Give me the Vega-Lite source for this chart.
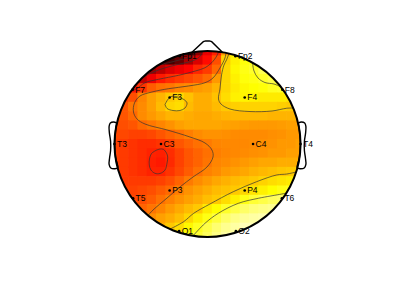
{
"$schema":"https://vega.github.io/schema/vega-lite/v6.json",
"width":400,"height":299,"autosize":{"type":"none"},"padding":0,
"background":"white",
"config":{"view":{"stroke":null}},
"datasets":{
"grid":[
{"x":-0.3,"y":1,"v":0.03},{"x":-0.2,"y":1,"v":0.07},{"x":-0.1,"y":1,"v":0.2},{"x":0,"y":1,"v":0.34},{"x":0.1,"y":1,"v":0.42},{"x":0.2,"y":1,"v":0.6},{"x":0.3,"y":1,"v":0.72},
{"x":-0.5,"y":0.9,"v":0.1},{"x":-0.4,"y":0.9,"v":0.09},{"x":-0.3,"y":0.9,"v":0.14},{"x":-0.2,"y":0.9,"v":0.24},{"x":-0.1,"y":0.9,"v":0.32},{"x":0,"y":0.9,"v":0.39},{"x":0.1,"y":0.9,"v":0.49},{"x":0.2,"y":0.9,"v":0.68},{"x":0.3,"y":0.9,"v":0.73},{"x":0.4,"y":0.9,"v":0.76},{"x":0.5,"y":0.9,"v":0.78},
{"x":-0.7,"y":0.8,"v":0.2},{"x":-0.6,"y":0.8,"v":0.22},{"x":-0.5,"y":0.8,"v":0.27},{"x":-0.4,"y":0.8,"v":0.32},{"x":-0.3,"y":0.8,"v":0.35},{"x":-0.2,"y":0.8,"v":0.38},{"x":-0.1,"y":0.8,"v":0.43},{"x":0,"y":0.8,"v":0.46},{"x":0.1,"y":0.8,"v":0.53},{"x":0.2,"y":0.8,"v":0.69},{"x":0.3,"y":0.8,"v":0.74},{"x":0.4,"y":0.8,"v":0.77},{"x":0.5,"y":0.8,"v":0.79},{"x":0.6,"y":0.8,"v":0.83},{"x":0.7,"y":0.8,"v":0.84},
{"x":-0.8,"y":0.7,"v":0.28},{"x":-0.7,"y":0.7,"v":0.28},{"x":-0.6,"y":0.7,"v":0.35},{"x":-0.5,"y":0.7,"v":0.41},{"x":-0.4,"y":0.7,"v":0.44},{"x":-0.3,"y":0.7,"v":0.46},{"x":-0.2,"y":0.7,"v":0.48},{"x":-0.1,"y":0.7,"v":0.5},{"x":0,"y":0.7,"v":0.53},{"x":0.1,"y":0.7,"v":0.6},{"x":0.2,"y":0.7,"v":0.69},{"x":0.3,"y":0.7,"v":0.73},{"x":0.4,"y":0.7,"v":0.76},{"x":0.5,"y":0.7,"v":0.77},{"x":0.6,"y":0.7,"v":0.79},{"x":0.7,"y":0.7,"v":0.82},{"x":0.8,"y":0.7,"v":0.82},
{"x":-0.8,"y":0.6,"v":0.4},{"x":-0.7,"y":0.6,"v":0.45},{"x":-0.6,"y":0.6,"v":0.51},{"x":-0.5,"y":0.6,"v":0.54},{"x":-0.4,"y":0.6,"v":0.55},{"x":-0.3,"y":0.6,"v":0.57},{"x":-0.2,"y":0.6,"v":0.58},{"x":-0.1,"y":0.6,"v":0.6},{"x":0,"y":0.6,"v":0.61},{"x":0.1,"y":0.6,"v":0.64},{"x":0.2,"y":0.6,"v":0.69},{"x":0.3,"y":0.6,"v":0.72},{"x":0.4,"y":0.6,"v":0.74},{"x":0.5,"y":0.6,"v":0.75},{"x":0.6,"y":0.6,"v":0.76},{"x":0.7,"y":0.6,"v":0.78},{"x":0.8,"y":0.6,"v":0.79},
{"x":-0.9,"y":0.5,"v":0.46},{"x":-0.8,"y":0.5,"v":0.49},{"x":-0.7,"y":0.5,"v":0.57},{"x":-0.6,"y":0.5,"v":0.61},{"x":-0.5,"y":0.5,"v":0.64},{"x":-0.4,"y":0.5,"v":0.67},{"x":-0.3,"y":0.5,"v":0.69},{"x":-0.2,"y":0.5,"v":0.66},{"x":-0.1,"y":0.5,"v":0.63},{"x":0,"y":0.5,"v":0.63},{"x":0.1,"y":0.5,"v":0.66},{"x":0.2,"y":0.5,"v":0.7},{"x":0.3,"y":0.5,"v":0.73},{"x":0.4,"y":0.5,"v":0.735},{"x":0.5,"y":0.5,"v":0.73},{"x":0.6,"y":0.5,"v":0.72},{"x":0.7,"y":0.5,"v":0.72},{"x":0.8,"y":0.5,"v":0.72},{"x":0.9,"y":0.5,"v":0.71},
{"x":-0.9,"y":0.4,"v":0.5},{"x":-0.8,"y":0.4,"v":0.55},{"x":-0.7,"y":0.4,"v":0.58},{"x":-0.6,"y":0.4,"v":0.61},{"x":-0.5,"y":0.4,"v":0.65},{"x":-0.4,"y":0.4,"v":0.69},{"x":-0.3,"y":0.4,"v":0.7},{"x":-0.2,"y":0.4,"v":0.65},{"x":-0.1,"y":0.4,"v":0.63},{"x":0,"y":0.4,"v":0.63},{"x":0.1,"y":0.4,"v":0.65},{"x":0.2,"y":0.4,"v":0.67},{"x":0.3,"y":0.4,"v":0.68},{"x":0.4,"y":0.4,"v":0.685},{"x":0.5,"y":0.4,"v":0.685},{"x":0.6,"y":0.4,"v":0.685},{"x":0.7,"y":0.4,"v":0.685},{"x":0.8,"y":0.4,"v":0.68},{"x":0.9,"y":0.4,"v":0.67},
{"x":-1,"y":0.3,"v":0.49},{"x":-0.9,"y":0.3,"v":0.5},{"x":-0.8,"y":0.3,"v":0.53},{"x":-0.7,"y":0.3,"v":0.58},{"x":-0.6,"y":0.3,"v":0.6},{"x":-0.5,"y":0.3,"v":0.62},{"x":-0.4,"y":0.3,"v":0.64},{"x":-0.3,"y":0.3,"v":0.64},{"x":-0.2,"y":0.3,"v":0.63},{"x":-0.1,"y":0.3,"v":0.62},{"x":0,"y":0.3,"v":0.62},{"x":0.1,"y":0.3,"v":0.63},{"x":0.2,"y":0.3,"v":0.64},{"x":0.3,"y":0.3,"v":0.645},{"x":0.4,"y":0.3,"v":0.645},{"x":0.5,"y":0.3,"v":0.645},{"x":0.6,"y":0.3,"v":0.645},{"x":0.7,"y":0.3,"v":0.64},{"x":0.8,"y":0.3,"v":0.64},{"x":0.9,"y":0.3,"v":0.64},{"x":1,"y":0.3,"v":0.64},
{"x":-1,"y":0.2,"v":0.49},{"x":-0.9,"y":0.2,"v":0.49},{"x":-0.8,"y":0.2,"v":0.5},{"x":-0.7,"y":0.2,"v":0.53},{"x":-0.6,"y":0.2,"v":0.55},{"x":-0.5,"y":0.2,"v":0.57},{"x":-0.4,"y":0.2,"v":0.59},{"x":-0.3,"y":0.2,"v":0.61},{"x":-0.2,"y":0.2,"v":0.62},{"x":-0.1,"y":0.2,"v":0.62},{"x":0,"y":0.2,"v":0.62},{"x":0.1,"y":0.2,"v":0.62},{"x":0.2,"y":0.2,"v":0.615},{"x":0.3,"y":0.2,"v":0.61},{"x":0.4,"y":0.2,"v":0.605},{"x":0.5,"y":0.2,"v":0.6},{"x":0.6,"y":0.2,"v":0.6},{"x":0.7,"y":0.2,"v":0.6},{"x":0.8,"y":0.2,"v":0.605},{"x":0.9,"y":0.2,"v":0.61},{"x":1,"y":0.2,"v":0.61},
{"x":-1,"y":0.1,"v":0.48},{"x":-0.9,"y":0.1,"v":0.48},{"x":-0.8,"y":0.1,"v":0.47},{"x":-0.7,"y":0.1,"v":0.47},{"x":-0.6,"y":0.1,"v":0.48},{"x":-0.5,"y":0.1,"v":0.5},{"x":-0.4,"y":0.1,"v":0.52},{"x":-0.3,"y":0.1,"v":0.54},{"x":-0.2,"y":0.1,"v":0.56},{"x":-0.1,"y":0.1,"v":0.58},{"x":0,"y":0.1,"v":0.59},{"x":0.1,"y":0.1,"v":0.59},{"x":0.2,"y":0.1,"v":0.585},{"x":0.3,"y":0.1,"v":0.58},{"x":0.4,"y":0.1,"v":0.58},{"x":0.5,"y":0.1,"v":0.58},{"x":0.6,"y":0.1,"v":0.58},{"x":0.7,"y":0.1,"v":0.585},{"x":0.8,"y":0.1,"v":0.59},{"x":0.9,"y":0.1,"v":0.6},{"x":1,"y":0.1,"v":0.6},
{"x":-1,"y":0,"v":0.47},{"x":-0.9,"y":0,"v":0.46},{"x":-0.8,"y":0,"v":0.45},{"x":-0.7,"y":0,"v":0.44},{"x":-0.6,"y":0,"v":0.44},{"x":-0.5,"y":0,"v":0.45},{"x":-0.4,"y":0,"v":0.47},{"x":-0.3,"y":0,"v":0.5},{"x":-0.2,"y":0,"v":0.52},{"x":-0.1,"y":0,"v":0.54},{"x":0,"y":0,"v":0.555},{"x":0.1,"y":0,"v":0.57},{"x":0.2,"y":0,"v":0.575},{"x":0.3,"y":0,"v":0.575},{"x":0.4,"y":0,"v":0.575},{"x":0.5,"y":0,"v":0.58},{"x":0.6,"y":0,"v":0.585},{"x":0.7,"y":0,"v":0.59},{"x":0.8,"y":0,"v":0.6},{"x":0.9,"y":0,"v":0.6},{"x":1,"y":0,"v":0.61},
{"x":-1,"y":-0.1,"v":0.47},{"x":-0.9,"y":-0.1,"v":0.46},{"x":-0.8,"y":-0.1,"v":0.45},{"x":-0.7,"y":-0.1,"v":0.44},{"x":-0.6,"y":-0.1,"v":0.425},{"x":-0.5,"y":-0.1,"v":0.42},{"x":-0.4,"y":-0.1,"v":0.44},{"x":-0.3,"y":-0.1,"v":0.47},{"x":-0.2,"y":-0.1,"v":0.5},{"x":-0.1,"y":-0.1,"v":0.52},{"x":0,"y":-0.1,"v":0.54},{"x":0.1,"y":-0.1,"v":0.56},{"x":0.2,"y":-0.1,"v":0.57},{"x":0.3,"y":-0.1,"v":0.575},{"x":0.4,"y":-0.1,"v":0.58},{"x":0.5,"y":-0.1,"v":0.585},{"x":0.6,"y":-0.1,"v":0.59},{"x":0.7,"y":-0.1,"v":0.6},{"x":0.8,"y":-0.1,"v":0.6},{"x":0.9,"y":-0.1,"v":0.61},{"x":1,"y":-0.1,"v":0.61},
{"x":-1,"y":-0.2,"v":0.47},{"x":-0.9,"y":-0.2,"v":0.46},{"x":-0.8,"y":-0.2,"v":0.45},{"x":-0.7,"y":-0.2,"v":0.44},{"x":-0.6,"y":-0.2,"v":0.42},{"x":-0.5,"y":-0.2,"v":0.41},{"x":-0.4,"y":-0.2,"v":0.435},{"x":-0.3,"y":-0.2,"v":0.47},{"x":-0.2,"y":-0.2,"v":0.5},{"x":-0.1,"y":-0.2,"v":0.52},{"x":0,"y":-0.2,"v":0.545},{"x":0.1,"y":-0.2,"v":0.57},{"x":0.2,"y":-0.2,"v":0.58},{"x":0.3,"y":-0.2,"v":0.59},{"x":0.4,"y":-0.2,"v":0.6},{"x":0.5,"y":-0.2,"v":0.61},{"x":0.6,"y":-0.2,"v":0.62},{"x":0.7,"y":-0.2,"v":0.62},{"x":0.8,"y":-0.2,"v":0.63},{"x":0.9,"y":-0.2,"v":0.63},{"x":1,"y":-0.2,"v":0.63},
{"x":-1,"y":-0.3,"v":0.47},{"x":-0.9,"y":-0.3,"v":0.46},{"x":-0.8,"y":-0.3,"v":0.45},{"x":-0.7,"y":-0.3,"v":0.44},{"x":-0.6,"y":-0.3,"v":0.425},{"x":-0.5,"y":-0.3,"v":0.425},{"x":-0.4,"y":-0.3,"v":0.45},{"x":-0.3,"y":-0.3,"v":0.48},{"x":-0.2,"y":-0.3,"v":0.51},{"x":-0.1,"y":-0.3,"v":0.54},{"x":0,"y":-0.3,"v":0.565},{"x":0.1,"y":-0.3,"v":0.58},{"x":0.2,"y":-0.3,"v":0.6},{"x":0.3,"y":-0.3,"v":0.61},{"x":0.4,"y":-0.3,"v":0.62},{"x":0.5,"y":-0.3,"v":0.635},{"x":0.6,"y":-0.3,"v":0.645},{"x":0.7,"y":-0.3,"v":0.655},{"x":0.8,"y":-0.3,"v":0.665},{"x":0.9,"y":-0.3,"v":0.67},{"x":1,"y":-0.3,"v":0.68},
{"x":-0.9,"y":-0.4,"v":0.46},{"x":-0.8,"y":-0.4,"v":0.46},{"x":-0.7,"y":-0.4,"v":0.46},{"x":-0.6,"y":-0.4,"v":0.46},{"x":-0.5,"y":-0.4,"v":0.47},{"x":-0.4,"y":-0.4,"v":0.49},{"x":-0.3,"y":-0.4,"v":0.52},{"x":-0.2,"y":-0.4,"v":0.555},{"x":-0.1,"y":-0.4,"v":0.58},{"x":0,"y":-0.4,"v":0.6},{"x":0.1,"y":-0.4,"v":0.62},{"x":0.2,"y":-0.4,"v":0.635},{"x":0.3,"y":-0.4,"v":0.65},{"x":0.4,"y":-0.4,"v":0.66},{"x":0.5,"y":-0.4,"v":0.67},{"x":0.6,"y":-0.4,"v":0.685},{"x":0.7,"y":-0.4,"v":0.7},{"x":0.8,"y":-0.4,"v":0.71},{"x":0.9,"y":-0.4,"v":0.72},
{"x":-0.9,"y":-0.5,"v":0.47},{"x":-0.8,"y":-0.5,"v":0.47},{"x":-0.7,"y":-0.5,"v":0.48},{"x":-0.6,"y":-0.5,"v":0.49},{"x":-0.5,"y":-0.5,"v":0.51},{"x":-0.4,"y":-0.5,"v":0.53},{"x":-0.3,"y":-0.5,"v":0.56},{"x":-0.2,"y":-0.5,"v":0.59},{"x":-0.1,"y":-0.5,"v":0.61},{"x":0,"y":-0.5,"v":0.63},{"x":0.1,"y":-0.5,"v":0.65},{"x":0.2,"y":-0.5,"v":0.66},{"x":0.3,"y":-0.5,"v":0.67},{"x":0.4,"y":-0.5,"v":0.69},{"x":0.5,"y":-0.5,"v":0.71},{"x":0.6,"y":-0.5,"v":0.73},{"x":0.7,"y":-0.5,"v":0.75},{"x":0.8,"y":-0.5,"v":0.77},{"x":0.9,"y":-0.5,"v":0.78},
{"x":-0.8,"y":-0.6,"v":0.48},{"x":-0.7,"y":-0.6,"v":0.49},{"x":-0.6,"y":-0.6,"v":0.51},{"x":-0.5,"y":-0.6,"v":0.54},{"x":-0.4,"y":-0.6,"v":0.565},{"x":-0.3,"y":-0.6,"v":0.59},{"x":-0.2,"y":-0.6,"v":0.61},{"x":-0.1,"y":-0.6,"v":0.63},{"x":0,"y":-0.6,"v":0.655},{"x":0.1,"y":-0.6,"v":0.67},{"x":0.2,"y":-0.6,"v":0.7},{"x":0.3,"y":-0.6,"v":0.73},{"x":0.4,"y":-0.6,"v":0.77},{"x":0.5,"y":-0.6,"v":0.8},{"x":0.6,"y":-0.6,"v":0.82},{"x":0.7,"y":-0.6,"v":0.84},{"x":0.8,"y":-0.6,"v":0.85},
{"x":-0.8,"y":-0.7,"v":0.5},{"x":-0.7,"y":-0.7,"v":0.52},{"x":-0.6,"y":-0.7,"v":0.545},{"x":-0.5,"y":-0.7,"v":0.57},{"x":-0.4,"y":-0.7,"v":0.6},{"x":-0.3,"y":-0.7,"v":0.625},{"x":-0.2,"y":-0.7,"v":0.65},{"x":-0.1,"y":-0.7,"v":0.67},{"x":0,"y":-0.7,"v":0.72},{"x":0.1,"y":-0.7,"v":0.75},{"x":0.2,"y":-0.7,"v":0.79},{"x":0.3,"y":-0.7,"v":0.82},{"x":0.4,"y":-0.7,"v":0.85},{"x":0.5,"y":-0.7,"v":0.87},{"x":0.6,"y":-0.7,"v":0.88},{"x":0.7,"y":-0.7,"v":0.89},{"x":0.8,"y":-0.7,"v":0.9},
{"x":-0.7,"y":-0.8,"v":0.56},{"x":-0.6,"y":-0.8,"v":0.58},{"x":-0.5,"y":-0.8,"v":0.61},{"x":-0.4,"y":-0.8,"v":0.63},{"x":-0.3,"y":-0.8,"v":0.655},{"x":-0.2,"y":-0.8,"v":0.69},{"x":-0.1,"y":-0.8,"v":0.73},{"x":0,"y":-0.8,"v":0.77},{"x":0.1,"y":-0.8,"v":0.81},{"x":0.2,"y":-0.8,"v":0.85},{"x":0.3,"y":-0.8,"v":0.88},{"x":0.4,"y":-0.8,"v":0.9},{"x":0.5,"y":-0.8,"v":0.91},{"x":0.6,"y":-0.8,"v":0.92},{"x":0.7,"y":-0.8,"v":0.92},
{"x":-0.5,"y":-0.9,"v":0.63},{"x":-0.4,"y":-0.9,"v":0.67},{"x":-0.3,"y":-0.9,"v":0.7},{"x":-0.2,"y":-0.9,"v":0.74},{"x":-0.1,"y":-0.9,"v":0.78},{"x":0,"y":-0.9,"v":0.82},{"x":0.1,"y":-0.9,"v":0.86},{"x":0.2,"y":-0.9,"v":0.89},{"x":0.3,"y":-0.9,"v":0.91},{"x":0.4,"y":-0.9,"v":0.93},{"x":0.5,"y":-0.9,"v":0.93},
{"x":-0.3,"y":-1,"v":0.71},{"x":-0.2,"y":-1,"v":0.76},{"x":-0.1,"y":-1,"v":0.8},{"x":0,"y":-1,"v":0.84},{"x":0.1,"y":-1,"v":0.88},{"x":0.2,"y":-1,"v":0.91},{"x":0.3,"y":-1,"v":0.93}
],
"head":[{"x":0,"y":0}],
"contours":[
{"c":"L3","x":-0.532,"y":0.849},{"c":"L3","x":-0.417,"y":0.874},{"c":"L3","x":-0.274,"y":0.911},{"c":"L3","x":-0.167,"y":0.939},{"c":"L3","x":-0.124,"y":0.989},
{"c":"L2","x":-0.704,"y":0.71},{"c":"L2","x":-0.597,"y":0.767},{"c":"L2","x":-0.454,"y":0.82},{"c":"L2","x":-0.31,"y":0.857},{"c":"L2","x":-0.167,"y":0.892},{"c":"L2","x":-0.095,"y":0.928},{"c":"L2","x":-0.048,"y":0.999},
{"c":"L1","x":-0.823,"y":0.569},{"c":"L1","x":-0.758,"y":0.597},{"c":"L1","x":-0.672,"y":0.659},{"c":"L1","x":-0.525,"y":0.696},{"c":"L1","x":-0.31,"y":0.739},{"c":"L1","x":-0.131,"y":0.785},{"c":"L1","x":-0.027,"y":0.82},{"c":"L1","x":0.045,"y":0.874},{"c":"L1","x":0.099,"y":0.946},{"c":"L1","x":0.118,"y":0.992},
{"c":"D","x":0.199,"y":0.98},{"c":"D","x":0.188,"y":0.925},{"c":"D","x":0.134,"y":0.817},{"c":"D","x":0.059,"y":0.71},{"c":"D","x":-0.027,"y":0.659},{"c":"D","x":-0.202,"y":0.624},{"c":"D","x":-0.417,"y":0.595},{"c":"D","x":-0.597,"y":0.559},{"c":"D","x":-0.726,"y":0.516},{"c":"D","x":-0.785,"y":0.441},{"c":"D","x":-0.796,"y":0.344},{"c":"D","x":-0.758,"y":0.269},{"c":"D","x":-0.672,"y":0.215},{"c":"D","x":-0.435,"y":0.151},{"c":"D","x":-0.188,"y":0.075},{"c":"D","x":-0.027,"y":0.011},{"c":"D","x":0.048,"y":-0.065},{"c":"D","x":0.059,"y":-0.14},{"c":"D","x":-0.005,"y":-0.247},{"c":"D","x":-0.156,"y":-0.355},{"c":"D","x":-0.296,"y":-0.462},{"c":"D","x":-0.435,"y":-0.581},{"c":"D","x":-0.586,"y":-0.71},{"c":"D","x":-0.64,"y":-0.769},
{"c":"C","x":0.231,"y":0.973},{"c":"C","x":0.204,"y":0.903},{"c":"C","x":0.177,"y":0.849},{"c":"C","x":0.151,"y":0.742},{"c":"C","x":0.134,"y":0.591},{"c":"C","x":0.118,"y":0.484},{"c":"C","x":0.145,"y":0.43},{"c":"C","x":0.242,"y":0.376},{"c":"C","x":0.457,"y":0.349},{"c":"C","x":0.694,"y":0.355},{"c":"C","x":0.849,"y":0.384},{"c":"C","x":0.919,"y":0.387},
{"c":"F3","x":-0.457,"y":0.425},{"c":"F3","x":-0.422,"y":0.484},{"c":"F3","x":-0.382,"y":0.513},{"c":"F3","x":-0.31,"y":0.502},{"c":"F3","x":-0.253,"y":0.478},{"c":"F3","x":-0.22,"y":0.441},{"c":"F3","x":-0.242,"y":0.387},{"c":"F3","x":-0.296,"y":0.36},{"c":"F3","x":-0.371,"y":0.36},{"c":"F3","x":-0.435,"y":0.382},{"c":"F3","x":-0.457,"y":0.425},
{"c":"C3","x":-0.546,"y":-0.065},{"c":"C3","x":-0.511,"y":-0.054},{"c":"C3","x":-0.475,"y":-0.057},{"c":"C3","x":-0.441,"y":-0.097},{"c":"C3","x":-0.428,"y":-0.14},{"c":"C3","x":-0.435,"y":-0.204},{"c":"C3","x":-0.457,"y":-0.28},{"c":"C3","x":-0.511,"y":-0.317},{"c":"C3","x":-0.565,"y":-0.315},{"c":"C3","x":-0.608,"y":-0.28},{"c":"C3","x":-0.626,"y":-0.226},{"c":"C3","x":-0.624,"y":-0.161},{"c":"C3","x":-0.602,"y":-0.102},{"c":"C3","x":-0.546,"y":-0.065},
{"c":"F8","x":0.484,"y":0.875},{"c":"F8","x":0.5,"y":0.785},{"c":"F8","x":0.543,"y":0.71},{"c":"F8","x":0.618,"y":0.661},{"c":"F8","x":0.715,"y":0.645},{"c":"F8","x":0.79,"y":0.613},
{"c":"E1","x":-0.403,"y":-0.915},{"c":"E1","x":-0.256,"y":-0.835},{"c":"E1","x":-0.148,"y":-0.745},{"c":"E1","x":0.027,"y":-0.645},{"c":"E1","x":0.277,"y":-0.513},{"c":"E1","x":0.529,"y":-0.405},{"c":"E1","x":0.744,"y":-0.333},{"c":"E1","x":0.852,"y":-0.323},{"c":"E1","x":0.954,"y":-0.301},
{"c":"E2","x":-0.156,"y":-0.988},{"c":"E2","x":-0.027,"y":-0.853},{"c":"E2","x":0.116,"y":-0.745},{"c":"E2","x":0.331,"y":-0.638},{"c":"E2","x":0.546,"y":-0.584},{"c":"E2","x":0.798,"y":-0.538},{"c":"E2","x":0.85,"y":-0.527}
],
"ears":[
{"s":"R","x":0.975,"y":0.225},{"s":"R","x":1.01,"y":0.236},{"s":"R","x":1.045,"y":0.225},{"s":"R","x":1.058,"y":0.19},{"s":"R","x":1.055,"y":0.12},{"s":"R","x":1.042,"y":0.03},{"s":"R","x":1.042,"y":-0.07},{"s":"R","x":1.053,"y":-0.15},{"s":"R","x":1.058,"y":-0.22},{"s":"R","x":1.04,"y":-0.258},{"s":"R","x":1.0,"y":-0.266},{"s":"R","x":0.966,"y":-0.258},{"s":"R","x":0.99,"y":-0.14},{"s":"R","x":1.0,"y":0.0},{"s":"R","x":0.99,"y":0.14},{"s":"R","x":0.975,"y":0.225},
{"s":"L","x":-0.975,"y":0.225},{"s":"L","x":-1.01,"y":0.236},{"s":"L","x":-1.045,"y":0.225},{"s":"L","x":-1.058,"y":0.19},{"s":"L","x":-1.055,"y":0.12},{"s":"L","x":-1.042,"y":0.03},{"s":"L","x":-1.042,"y":-0.07},{"s":"L","x":-1.053,"y":-0.15},{"s":"L","x":-1.058,"y":-0.22},{"s":"L","x":-1.04,"y":-0.258},{"s":"L","x":-1.0,"y":-0.266},{"s":"L","x":-0.966,"y":-0.258},{"s":"L","x":-0.99,"y":-0.14},{"s":"L","x":-1.0,"y":0.0},{"s":"L","x":-0.99,"y":0.14},{"s":"L","x":-0.975,"y":0.225}
],
"nose":[
{"x":-0.17,"y":0.985},{"x":-0.045,"y":1.1},{"x":-0.02,"y":1.108},{"x":0.02,"y":1.108},{"x":0.045,"y":1.1},{"x":0.16,"y":0.987}
],
"elec":[
{"n":"Fp1","x":-0.3,"y":0.943},{"n":"Fp2","x":0.3,"y":0.943},{"n":"F7","x":-0.805,"y":0.584},{"n":"F8","x":0.805,"y":0.584},{"n":"F3","x":-0.407,"y":0.5},{"n":"F4","x":0.4,"y":0.5},{"n":"T3","x":-1.0,"y":0},{"n":"C3","x":-0.5,"y":0},{"n":"C4","x":0.49,"y":0},{"n":"T4","x":1.0,"y":0},{"n":"T5","x":-0.8,"y":-0.584},{"n":"P3","x":-0.407,"y":-0.5},{"n":"P4","x":0.4,"y":-0.5},{"n":"T6","x":0.8,"y":-0.584},{"n":"O1","x":-0.305,"y":-0.937},{"n":"O2","x":0.305,"y":-0.937}
]
},
"encoding":{
"x":{"field":"x","type":"quantitative","scale":{"domain":[-2.2312,2.0699],"nice":false,"zero":false},"axis":null},
"y":{"field":"y","type":"quantitative","scale":{"domain":[-1.6667,1.5484],"nice":false,"zero":false},"axis":null}
},
"layer":[
{"data":{"name":"grid"},"mark":{"type":"square","size":100,"opacity":1,"strokeWidth":0},
 "encoding":{"color":{"field":"v","type":"quantitative","scale":{"domain":[0,0.375,0.75,1],"range":["#0b0000","#ff0000","#ffff00","#ffffff"],"interpolate":"rgb"},"legend":null}}},
{"data":{"name":"head"},"mark":{"type":"point","shape":"circle","filled":false,"size":46656,"stroke":"white","strokeWidth":30,"opacity":1}},
{"data":{"name":"contours"},"mark":{"type":"line","stroke":"#333333","strokeWidth":0.7,"interpolate":"catmull-rom"},
 "encoding":{"detail":{"field":"c"},"order":{"value":null}}},
{"data":{"name":"elec"},"mark":{"type":"text","align":"left","baseline":"middle","dx":2.5,"fontSize":8.5,"font":"Liberation Sans","color":"black"},
 "encoding":{"text":{"field":"n"}}},
{"data":{"name":"ears"},"mark":{"type":"line","stroke":"black","strokeWidth":1.4,"fill":"white","interpolate":"catmull-rom"},
 "encoding":{"detail":{"field":"s"},"order":{"value":null}}},
{"data":{"name":"head"},"mark":{"type":"point","shape":"circle","filled":false,"size":34596,"stroke":"black","strokeWidth":2,"opacity":1}},
{"data":{"name":"nose"},"mark":{"type":"line","stroke":"black","strokeWidth":1.4},"encoding":{"order":{"value":null}}},
{"data":{"name":"elec"},"mark":{"type":"point","shape":"circle","filled":true,"size":7,"color":"black","opacity":1}}
]
}
